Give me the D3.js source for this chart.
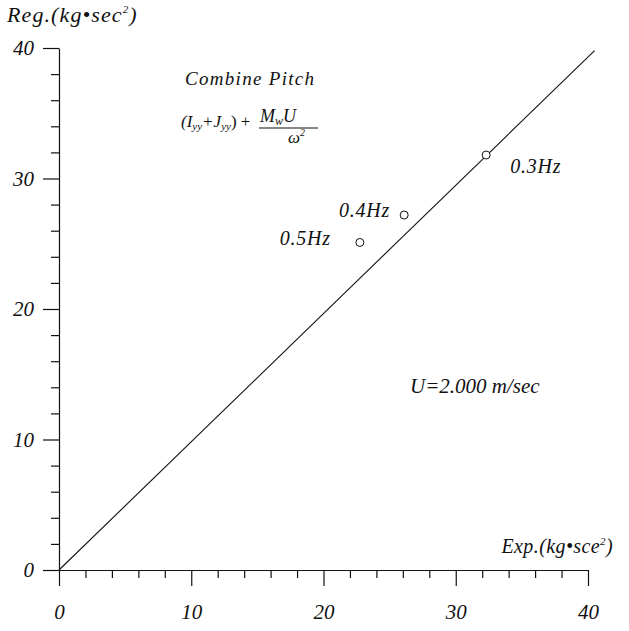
<!DOCTYPE html>
<html>
<head>
<meta charset="utf-8">
<script src="https://cdn.jsdelivr.net/npm/d3@7"></script>
<style>
  body { margin: 0; background: #fff; }
  svg text { font-family: "Liberation Serif", "Times New Roman", serif; font-style: italic; fill: #111; }
</style>
</head>
<body>
<div id="chart"></div>
<script>
// Data
const freqLabels = ["0.3Hz", "0.4Hz", "0.5Hz"];
const expValues = [32.3, 26.1, 22.75];   // Exp. (kg·sec²)
const regValues = [31.8, 27.2, 25.1];    // Reg. (kg·sec²)
const refLineX = [0, 40.5];
const refLineY = [0, 39.8];
const majorTicks = [0, 10, 20, 30, 40];
const minorTicks = d3.range(0, 41, 2).filter(d => d % 10 !== 0);

// label placement relative to each point (dx, dy, anchor)
const labelPlace = [[24, 18, "start"], [-14, 2, "end"], [-29, 3, "end"]];

const W = 629, H = 631;
const svg = d3.select("#chart").append("svg")
    .attr("width", W).attr("height", H);

const xScale = d3.scaleLinear().domain([0, 40]).range([59, 588]);
const yScale = d3.scaleLinear().domain([0, 40]).range([570, 48]);

// minor ticks first
svg.append("g")
    .attr("transform", `translate(0,${yScale(0)})`)
    .call(d3.axisBottom(xScale).tickValues(minorTicks).tickSize(8).tickSizeOuter(0).tickFormat(""))
    .call(g => g.select(".domain").remove());
svg.append("g")
    .attr("transform", `translate(${xScale(0)},0)`)
    .call(d3.axisLeft(yScale).tickValues(minorTicks).tickSize(8).tickSizeOuter(0).tickFormat(""))
    .call(g => g.select(".domain").remove());

// major axes
const xAxisG = svg.append("g")
    .attr("transform", `translate(0,${yScale(0)})`)
    .call(d3.axisBottom(xScale).tickValues(majorTicks).tickSize(16).tickSizeOuter(0).tickPadding(18));
const yAxisG = svg.append("g")
    .attr("transform", `translate(${xScale(0)},0)`)
    .call(d3.axisLeft(yScale).tickValues(majorTicks).tickSize(16).tickSizeOuter(0).tickPadding(9));

svg.selectAll(".tick line, .domain").attr("stroke", "#111").attr("stroke-width", 1.2);
[xAxisG, yAxisG].forEach(g => {
    g.attr("font-family", null);
    g.selectAll("text")
        .attr("font-family", "Liberation Serif, serif")
        .attr("font-style", "italic")
        .attr("font-size", 21);
});

// reference line y = x
svg.append("path")
    .datum(refLineX.map((x, i) => [x, refLineY[i]]))
    .attr("fill", "none")
    .attr("stroke", "#111")
    .attr("stroke-width", 1.1)
    .attr("d", d3.line().x(d => xScale(d[0])).y(d => yScale(d[1])));

// points
svg.selectAll(".pt")
    .data(expValues)
    .enter()
    .append("circle")
    .attr("class", "pt")
    .attr("cx", d => xScale(d))
    .attr("cy", (d, i) => yScale(regValues[i]))
    .attr("r", 4)
    .attr("fill", "#fff")
    .attr("stroke", "#111")
    .attr("stroke-width", 1);

svg.selectAll(".ptlabel")
    .data(freqLabels)
    .enter()
    .append("text")
    .attr("class", "ptlabel")
    .attr("x", (d, i) => xScale(expValues[i]) + labelPlace[i][0])
    .attr("y", (d, i) => yScale(regValues[i]) + labelPlace[i][1])
    .attr("text-anchor", (d, i) => labelPlace[i][2])
    .attr("font-size", 20)
    .attr("letter-spacing", 0.8)
    .text(d => d);

// axis titles
const reg = svg.append("text")
    .attr("x", 7).attr("y", 22)
    .attr("font-size", 22)
    .attr("letter-spacing", 1.1);
reg.append("tspan").text("Reg.(kg•sec");
reg.append("tspan").attr("font-size", 11).attr("dy", -9).text("2");
reg.append("tspan").attr("dy", 9).text(")");

const exp = svg.append("text")
    .attr("x", 613).attr("y", 553)
    .attr("text-anchor", "end")
    .attr("font-size", 20)
    .attr("letter-spacing", 0.4);
exp.append("tspan").text("Exp.(kg•sce");
exp.append("tspan").attr("font-size", 11).attr("dy", -8).text("2");
exp.append("tspan").attr("dy", 8).text(")");

// annotations
svg.append("text")
    .attr("x", 185).attr("y", 85)
    .attr("font-size", 19)
    .attr("letter-spacing", 1.3)
    .text("Combine Pitch");

const f = svg.append("text")
    .attr("x", 181).attr("y", 127)
    .attr("font-size", 17);
f.append("tspan").text("(I");
f.append("tspan").attr("font-size", 11).attr("dy", 3).text("yy");
f.append("tspan").attr("dy", -3).text("+J");
f.append("tspan").attr("font-size", 11).attr("dy", 3).text("yy");
f.append("tspan").attr("dy", -3).attr("font-style", "normal").text(") + ");

const num = svg.append("text")
    .attr("x", 260).attr("y", 122)
    .attr("font-size", 18);
num.append("tspan").text("M");
num.append("tspan").attr("font-size", 12).attr("dy", 3).text("w");
num.append("tspan").attr("dy", -3).text("U");

svg.append("line")
    .attr("x1", 259).attr("x2", 318)
    .attr("y1", 128).attr("y2", 128)
    .attr("stroke", "#111").attr("stroke-width", 1);

const den = svg.append("text")
    .attr("x", 288).attr("y", 143)
    .attr("font-size", 17);
den.append("tspan").text("ω");
den.append("tspan").attr("font-size", 10).attr("dy", -7).text("2");

svg.append("text")
    .attr("x", 410).attr("y", 393)
    .attr("font-size", 21)
    .text("U=2.000 m/sec");
</script>
</body>
</html>
